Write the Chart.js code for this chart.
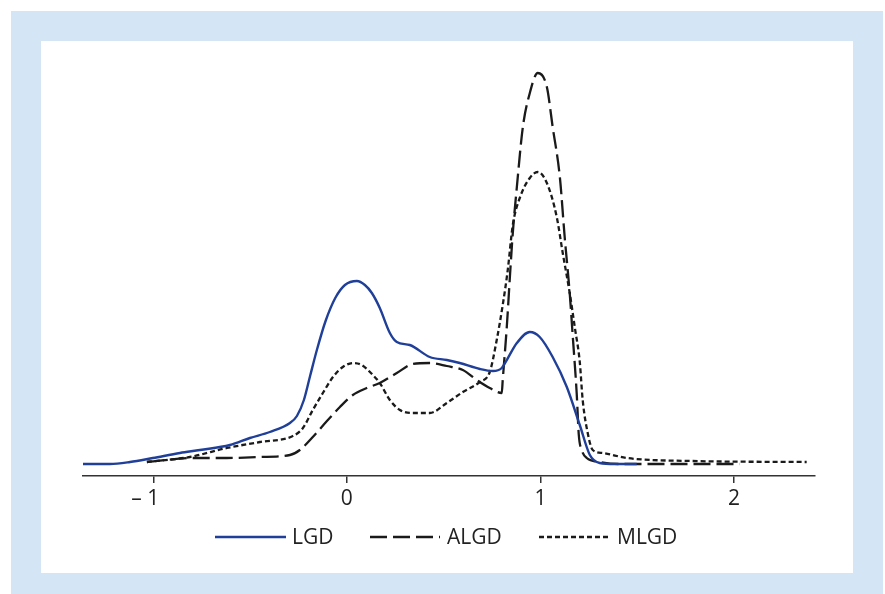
<!DOCTYPE html>
<html><head><meta charset="utf-8">
<script src="https://cdn.jsdelivr.net/npm/chart.js@4"></script>
<style>
html,body{margin:0;padding:0;background:#fff;overflow:hidden;}
#bg{position:absolute;left:11px;top:11px;width:872px;height:583px;background:#d4e6f6;}
#panel{position:absolute;left:41px;top:41px;width:812px;height:532px;background:#fff;}
#wrap{position:absolute;left:0;top:0;width:885px;height:594px;}
</style></head><body>
<div id="bg"></div><div id="panel"></div>
<div id="wrap"><canvas id="c" width="885" height="594"></canvas></div>
<script>
// Series labels
const seriesLabels = ['LGD', 'ALGD', 'MLGD'];
// Tick values on the x axis
const xTicks = [-1, 0, 1, 2];

// LGD density curve
const lgdX = [-1.363,-1.224,-1.120,-1.002,-0.862,-0.759,-0.604,-0.501,-0.398,-0.294,-0.258,-0.222,-0.190,-0.155,-0.110,-0.060,-0.010,0.052,0.093,0.129,0.170,0.222,0.258,0.325,0.428,0.516,0.583,0.687,0.754,0.800,0.826,0.878,0.945,0.996,1.063,1.136,1.203,1.255,1.306,1.384,1.497];
const lgdY = [0,0,0.010,0.030,0.055,0.070,0.095,0.130,0.160,0.205,0.240,0.320,0.440,0.570,0.715,0.830,0.895,0.915,0.895,0.855,0.780,0.655,0.610,0.595,0.535,0.520,0.505,0.475,0.465,0.480,0.520,0.605,0.660,0.635,0.535,0.385,0.195,0.045,0.005,0,0];

// ALGD density curve
const algdX = [-1.033,-0.795,-0.620,-0.449,-0.294,-0.243,-0.176,-0.103,-0.036,0.031,0.103,0.170,0.258,0.341,0.428,0.516,0.599,0.671,0.738,0.800,0.805,0.826,0.842,0.857,0.878,0.909,0.945,0.986,1.033,1.063,1.100,1.125,1.151,1.167,1.187,1.198,1.213,1.239,1.306,1.409,2.029];
const algdY = [0.010,0.030,0.030,0.035,0.045,0.070,0.135,0.215,0.285,0.345,0.380,0.405,0.455,0.500,0.505,0.490,0.470,0.420,0.380,0.355,0.420,0.685,0.935,1.155,1.385,1.685,1.855,1.955,1.885,1.685,1.435,1.135,0.855,0.635,0.355,0.145,0.070,0.030,0.010,0,0];

// MLGD density curve
const mlgdX = [-1.033,-0.811,-0.620,-0.449,-0.279,-0.227,-0.176,-0.124,-0.072,-0.021,0.031,0.077,0.134,0.170,0.222,0.274,0.341,0.428,0.516,0.599,0.687,0.738,0.774,0.805,0.831,0.857,0.893,0.945,0.986,1.033,1.084,1.115,1.151,1.177,1.203,1.218,1.244,1.270,1.322,1.446,1.786,2.375];
const mlgdY = [0.010,0.035,0.080,0.110,0.140,0.180,0.270,0.355,0.435,0.485,0.505,0.495,0.445,0.405,0.320,0.270,0.255,0.255,0.305,0.360,0.410,0.460,0.620,0.795,0.970,1.195,1.330,1.430,1.460,1.405,1.235,1.055,0.855,0.685,0.510,0.320,0.155,0.070,0.055,0.030,0.015,0.010];

const toPts = (xs, ys) => xs.map((x, i) => ({x: x, y: ys[i]}));
const FONT = '"Open Sans", "Noto Sans", sans-serif';

const legendPlugin = {
  id: 'customLegend',
  afterDraw(chart) {
    const ctx = chart.ctx;
    const items = [
      {x0: 215, x1: 286, tx: 292},
      {x0: 370, x1: 440, tx: 447},
      {x0: 539, x1: 609, tx: 617}
    ];
    const y = 537;
    ctx.save();
    chart.data.datasets.forEach((ds, i) => {
      const it = items[i];
      ctx.beginPath();
      ctx.setLineDash(ds.borderDash || []);
      ctx.strokeStyle = ds.borderColor;
      ctx.lineWidth = ds.borderWidth;
      ctx.moveTo(it.x0, y);
      ctx.lineTo(it.x1, y);
      ctx.stroke();
      ctx.setLineDash([]);
      ctx.fillStyle = '#222';
      ctx.font = '21px ' + FONT;
      ctx.textBaseline = 'middle';
      ctx.textAlign = 'left';
      ctx.fillText(ds.label, it.tx, y + 1);
    });
    ctx.restore();
  }
};

new Chart(document.getElementById('c'), {
  type: 'line',
  data: {
    datasets: [
      {label: seriesLabels[0], data: toPts(lgdX, lgdY), borderColor: '#1f3f98', borderWidth: 2.4, pointRadius: 0, cubicInterpolationMode: 'monotone', fill: false},
      {label: seriesLabels[1], data: toPts(algdX, algdY), borderColor: '#1a1a1a', borderWidth: 2.3, borderDash: [17, 6], pointRadius: 0, cubicInterpolationMode: 'monotone', fill: false},
      {label: seriesLabels[2], data: toPts(mlgdX, mlgdY), borderColor: '#1a1a1a', borderWidth: 2.3, borderDash: [5, 3], pointRadius: 0, cubicInterpolationMode: 'monotone', fill: false}
    ]
  },
  options: {
    responsive: false,
    devicePixelRatio: 1,
    animation: false,
    layout: {padding: {left: 83, right: 70, top: 60, bottom: 0}},
    plugins: {legend: {display: false}, tooltip: {enabled: false}},
    scales: {
      x: {
        type: 'linear',
        min: -1.363,
        max: 2.418,
        afterBuildTicks: (scale) => { scale.ticks = xTicks.map(v => ({value: v})); },
        afterFit: (scale) => { scale.height = 118; },
        ticks: {
          includeBounds: false,
          color: '#222',
          font: {size: 21, family: FONT},
          padding: 3,
          maxRotation: 0,
          callback: (v) => v < 0 ? '\u2013 ' + (-v) + '\u2002 ' : String(v)
        },
        grid: {display: true, drawOnChartArea: false, drawTicks: true, tickLength: 7, color: '#333', lineWidth: 1.5},
        border: {display: true, color: '#333', width: 1.5}
      },
      y: {display: false, min: -0.06, max: 2.02}
    }
  },
  plugins: [legendPlugin]
});
</script>
</body></html>
